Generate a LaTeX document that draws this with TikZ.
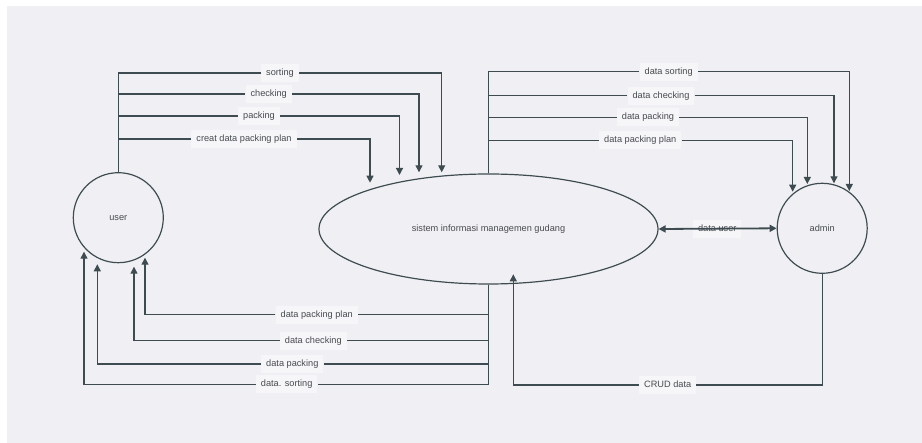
\documentclass[tikz,border=0pt]{standalone}
\usepackage{fontspec}
\setmainfont{Liberation Sans}
\usetikzlibrary{shapes.geometric,arrows.meta,calc}
\definecolor{canvas}{HTML}{F0F0F4}
\definecolor{tagfill}{HTML}{F6F6F9}
\definecolor{ink}{HTML}{3E4C51}
\definecolor{txt}{HTML}{474B4E}
\tikzset{
  flow/.style={draw=ink, line width=1.2pt, -{Triangle[length=7pt,width=7pt]}},
  tag/.style={fill=tagfill, text=txt, font=\fontsize{9.2}{11}\selectfont,
    inner xsep=5pt, inner ysep=4.5pt, text height=6.8pt, text depth=2pt},
  entity/.style={circle, draw=ink, line width=1.2pt, minimum size=90pt,
    inner sep=0pt, text=txt, font=\fontsize{9.2}{11}\selectfont},
  process/.style={ellipse, draw=ink, line width=1.2pt, minimum width=339pt,
    minimum height=110pt, inner sep=0pt, text=txt, font=\fontsize{9.2}{11}\selectfont}
}
\begin{document}
\begin{tikzpicture}[x=1pt,y=-1pt]
% canvas
\fill[white] (0,0) rectangle (922,443);
\fill[canvas] (7,6) rectangle (922,443);
\useasboundingbox (0,0) rectangle (922,443);

% entities and process
\node[entity] (user) at (118.3,217.7) {user};
\node[process] (sim) at (488.5,229) {sistem informasi managemen gudang};
\node[entity] (admin) at (822.2,228.3) {admin};

% flow labels
\node[tag] (uS) at (280,73) {sorting};
\node[tag] (uC) at (268.7,94) {checking};
\node[tag] (uP) at (259,116) {packing};
\node[tag] (uL) at (244,139) {creat data packing plan};
\node[tag] (aS) at (668.7,71.7) {data sorting};
\node[tag] (aC) at (661,95.7) {data checking};
\node[tag] (aP) at (648,117.3) {data packing};
\node[tag] (aL) at (640.3,140.3) {data packing plan};
\node[tag] (bL) at (316.7,314.7) {data packing plan};
\node[tag] (bC) at (313.3,340.7) {data checking};
\node[tag] (bP) at (292.3,364) {data packing};
\node[tag] (bS) at (286.7,384.3) {data. sorting};
\node[tag] (crud) at (667.7,385) {CRUD data};
\node[tag] (du) at (717.3,229) {data user};

% user -> system
\draw[flow] (user.north) |- (uS) -| ($(sim.center)+(-46.8,-56.7)$);
\draw[flow] (user.north) |- (uC) -| ($(sim.center)+(-69.5,-56.7)$);
\draw[flow] (user.north) |- (uP) -| ($(sim.center)+(-89,-54)$);
\draw[flow] (user.north) |- (uL) -| ($(sim.center)+(-118.5,-46.3)$);

% system -> admin
\draw[flow] (sim.north) |- (aS) -| ($(admin.center)+(27.1,-37.3)$);
\draw[flow] (sim.north) |- (aC) -| ($(admin.center)+(11.8,-45)$);
\draw[flow] (sim.north) |- (aP) -| ($(admin.center)+(-14.9,-44.3)$);
\draw[flow] (sim.north) |- (aL) -| ($(admin.center)+(-29.5,-36.6)$);

% system -> user
\draw[flow] (sim.south) |- (bL) -| ($(user.center)+(26.7,40)$);
\draw[flow] (sim.south) |- (bC) -| ($(user.center)+(15.7,49)$);
\draw[flow] (sim.south) |- (bP) -| ($(user.center)+(-21,46.6)$);
\draw[flow] (sim.south) |- (bS) -| ($(user.center)+(-34.3,34)$);

% admin -> system
\draw[flow] (admin.south) |- (crud) -| ($(sim.center)+(24.8,45.3)$);

% system <-> admin
\draw[draw=ink, line width=1.8pt,
  {Triangle[length=7pt,width=7pt]}-{Triangle[length=7pt,width=7pt]}]
  (sim.east) -- (admin.west);
\end{tikzpicture}
\end{document}
